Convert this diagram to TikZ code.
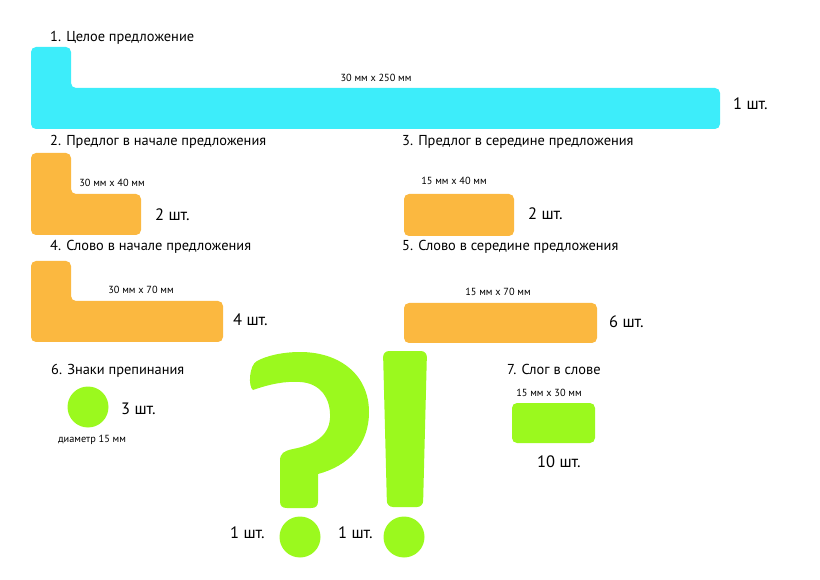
\documentclass[tikz,border=0pt]{standalone}
\usepackage{fontspec}
\setmainfont{PT Sans}
\usetikzlibrary{positioning}
\definecolor{stripcyan}{HTML}{3DEDFA}
\definecolor{striporange}{HTML}{FBB840}
\definecolor{stripgreen}{HTML}{9BF91E}

\begin{document}
\begin{tikzpicture}[x=1pt, y=-1pt,
    piece/.style={rounded corners=5pt},
    heading/.style={anchor=base west, inner sep=0pt, font=\fontsize{14.4}{17}\selectfont},
    dims/.style={anchor=base, inner sep=0pt, font=\fontsize{10.3}{12}\selectfont},
    count/.style={anchor=base west, inner sep=0pt, font=\fontsize{16.5}{19}\selectfont}]
  \useasboundingbox (0,0) rectangle (820,580);

  % 1. whole sentence
  \fill[stripcyan, piece] (31,47) -- (71,47) -- (71,88) -- (720,88) -- (720,129) -- (31,129) -- cycle;
  \node[heading] (h1) at (50,42) {1. Целое предложение};
  \node[dims] (d1) at (376,82) {30 мм x 250 мм};
  \node[count] (c1) at (733,110) {1 шт.};

  % 2. and 3. prepositions
  \fill[striporange, piece] (31,153) -- (71,153) -- (71,194) -- (141,194) -- (141,235) -- (31,235) -- cycle;
  \node[heading] (h2) at (50,146) {2. Предлог в начале предложения};
  \node[dims] (d2) at (112,187) {30 мм x 40 мм};
  \node[count] (c2) at (155,221) {2 шт.};

  \fill[striporange, piece] (404,194) rectangle (514,236);
  \node[heading] (h3) at (402,146) {3. Предлог в середине предложения};
  \node[dims] (d3) at (454,185) {15 мм x 40 мм};
  \node[count] (c3) at (528,220) {2 шт.};

  % 4. and 5. words
  \fill[striporange, piece] (31,261) -- (71,261) -- (71,301) -- (223,301) -- (223,342) -- (31,342) -- cycle;
  \node[heading] (h4) at (50,251) {4. Слово в начале предложения};
  \node[dims] (d4) at (141,294) {30 мм x 70 мм};
  \node[count] (c4) at (233,326) {4 шт.};

  \fill[striporange, piece] (404,303) rectangle (597,343);
  \node[heading] (h5) at (402,251) {5. Слово в середине предложения};
  \node[dims] (d5) at (498,296) {15 мм x 70 мм};
  \node[count] (c5) at (609,327) {6 шт.};

  % 6. punctuation
  \fill[stripgreen] (88,407) circle (20.5);
  \node[heading] (h6) at (51,374) {6. Знаки препинания};
  \node[dims] (d6) at (92,442) {диаметр 15 мм};
  \node[count] (c6) at (121,414) {3 шт.};

  % question mark
  \fill[stripgreen] (253,390)
    .. controls (270,384) and (285,381) .. (300,382)
    .. controls (320,383) and (331,398) .. (330,418)
    .. controls (329,436) and (314,445) .. (293,449)
    .. controls (284,451) and (280,453) .. (280,461)
    -- (280,501) .. controls (280,506) and (282,508) .. (287,508)
    -- (311,508) .. controls (316,508) and (318,506) .. (318,501)
    -- (318,474)
    .. controls (348,466) and (369,445) .. (369,412)
    .. controls (369,375) and (340,352) .. (300,352)
    .. controls (282,352) and (266,356) .. (257,361)
    .. controls (249,365) and (248,387) .. (253,390) -- cycle;
  \fill[stripgreen] (300,537) circle (20.5);
  \node[count] (cq) at (230,538) {1 шт.};

  % exclamation mark
  \fill[stripgreen, rounded corners=6pt] (383,351) -- (427,351) -- (423,507) -- (387,507) -- cycle;
  \fill[stripgreen] (404,537) circle (20.5);
  \node[count] (ce) at (338,538) {1 шт.};

  % 7. syllable
  \fill[stripgreen, piece] (512,403) rectangle (595,443);
  \node[heading] (h7) at (507,374) {7. Слог в слове};
  \node[dims] (d7) at (549,396) {15 мм x 30 мм};
  \node[count] (c7) at (537,467) {10 шт.};
\end{tikzpicture}
\end{document}
